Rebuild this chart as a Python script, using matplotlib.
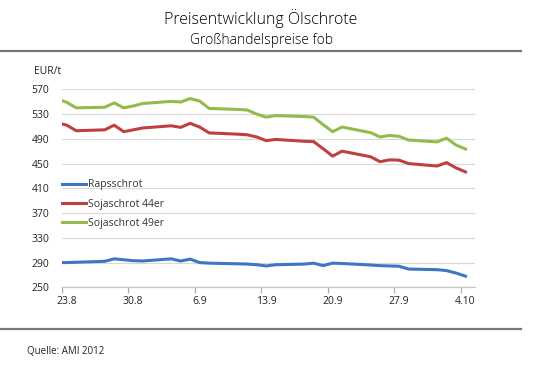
import matplotlib
matplotlib.use("Agg")
import matplotlib.pyplot as plt
import pandas as pd
from matplotlib.lines import Line2D

plt.rcParams['font.family'] = ['Open Sans', 'DejaVu Sans']

dates = ["22.08.2012", "23.08.2012", "24.08.2012", "27.08.2012", "28.08.2012", "29.08.2012",
         "30.08.2012", "31.08.2012", "03.09.2012", "04.09.2012", "05.09.2012", "06.09.2012",
         "07.09.2012", "10.09.2012", "11.09.2012", "12.09.2012", "13.09.2012", "14.09.2012",
         "17.09.2012", "18.09.2012", "19.09.2012", "20.09.2012", "21.09.2012", "24.09.2012",
         "25.09.2012", "26.09.2012", "27.09.2012", "28.09.2012", "01.10.2012", "02.10.2012",
         "03.10.2012", "04.10.2012"]
raps = [290, 290, 290.5, 292, 296, 294.5, 293, 292.5, 296, 292.5, 295.5, 290, 289, 288,
        287.5, 286.5, 284.5, 286.5, 287.5, 289, 285, 289, 288.5, 286, 285, 284.5, 284, 279.5,
        278.5, 277, 273, 268]
soja44 = [516, 512, 503, 504.5, 512, 501.5, 504.5, 507.5, 511, 508.5, 515, 509, 499.5,
          497.5, 496.5, 493, 487, 489, 486, 485.5, 474, 462, 470, 461, 453, 456, 455.5, 450,
          446, 451.5, 443, 436.5]
soja49 = [554, 549, 540, 541, 548, 540, 543, 547, 550.5, 549.5, 555, 551, 539, 537.5,
          536.5, 530, 525, 527.5, 526, 525, 513, 501.5, 509, 500, 493, 495.5, 494, 488,
          485, 491, 480, 473.5]
series_names = ["Rapsschrot", "Sojaschrot 44er", "Sojaschrot 49er"]
colors = ["#3f76c2", "#c0403f", "#93bb4b"]
yticks = [250, 290, 330, 370, 410, 450, 490, 530, 570]
xtick_labels = ["23.8", "30.8", "6.9", "13.9", "20.9", "27.9", "4.10"]

start = pd.Timestamp("2012-08-23")
dt = pd.to_datetime(dates, format="%d.%m.%Y")
x = [(d - start).days for d in dt]

fig = plt.figure(figsize=(5.49, 3.75), dpi=100)
ax = fig.add_axes([62/549, 1-287.3/375, 413/549, 198/375])

for vals, c in zip([raps, soja44, soja49], colors):
    ax.plot(x, vals, color=c, lw=2.2, solid_joinstyle='round', clip_on=True)

ax.set_xlim(-0.5, 43.0)
ax.set_ylim(250, 570)
ax.set_yticks(yticks)
ax.set_yticklabels([str(v) for v in yticks], fontsize=7.5, color='#222222')
ax.tick_params(axis='y', length=0, pad=9)
ax.grid(axis='y', color='#d9d9d9', lw=0.9)
ax.set_axisbelow(True)

major = [7*k - 0.5 for k in range(len(xtick_labels))]
minor = [7*k for k in range(len(xtick_labels))]
ax.set_xticks(major)
ax.set_xticklabels([])
ax.set_xticks(minor, minor=True)
ax.set_xticklabels(xtick_labels, minor=True, fontsize=7.5, color='#222222')
ax.tick_params(axis='x', which='major', length=4, color='#aaaaaa', width=0.9)
ax.tick_params(axis='x', which='minor', length=0, pad=6)

for s in ['top', 'right', 'left']:
    ax.spines[s].set_visible(False)
ax.spines['bottom'].set_color('#c8c8c8')
ax.spines['bottom'].set_linewidth(0.9)

handles = [Line2D([], [], color=c, lw=2.2) for c in colors]
leg = ax.legend(handles, series_names, loc='upper left', bbox_to_anchor=(0.0, 0.545),
                frameon=False, fontsize=7.5, handlelength=2.3, handletextpad=0.2,
                labelspacing=0.8, borderaxespad=0.0, borderpad=0.0)
for t in leg.get_texts():
    t.set_color('#333333')

fig.text(34/549, 1-72/375, "EUR/t", fontsize=7.5, color='#222222', va='center', ha='left')
fig.text(261/549, 1-19/375, "Preisentwicklung Ölschrote", fontsize=11.5, fontweight='light',
         ha='center', va='center', color='#000000')
fig.text(261/549, 1-40/375, "Großhandelspreise fob", fontsize=10, fontweight='light',
         ha='center', va='center', color='#000000')
fig.add_artist(Line2D([0, 521/549], [1-51/375, 1-51/375], color='#777777', lw=1.6,
                      transform=fig.transFigure))
fig.add_artist(Line2D([0, 521/549], [1-329/375, 1-329/375], color='#777777', lw=1.6,
                      transform=fig.transFigure))
fig.text(27/549, 1-352/375, "Quelle: AMI 2012", fontsize=7, color='#222222', va='center',
         ha='left')

fig.savefig("out.png", dpi=100)
